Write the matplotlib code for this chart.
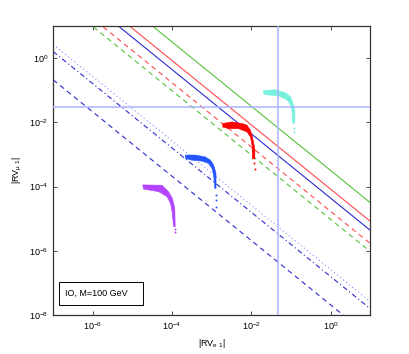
import matplotlib.pyplot as plt
import numpy as np

plt.rcParams['font.family'] = ['Liberation Sans', 'DejaVu Sans']
plt.rcParams['mathtext.default'] = 'regular'
plt.rcParams['font.size'] = 6.5

# axis ranges
x_range = [1e-7, 10]
y_range = [1e-8, 10]

# bound lines: log10(|RVe1| * |RVmu1|)
green_solid = -3.5
red_solid = -4.08
blue_solid = -4.36
red_dashed = -4.77
green_dashed = -5.02
blue_dotted = -6.58
blue_dashdot = -6.8
blue_dashed = -7.68

# crosshair limits
ve_limit = 0.046
vmu_limit = 0.03

# scan regions, outline in log10 (upper edge, then lower edge back)
violet_lx = [-4.74, -4.25, -4.09, -3.99, -3.93, -3.92, -3.96, -4.0, -4.04, -4.13, -4.34, -4.72]
violet_ly = [-3.95, -3.96, -4.16, -4.37, -4.68, -5.25, -5.25, -4.78, -4.52, -4.31, -4.16, -4.08]
violet_tail_lx = [-3.93, -3.93]
violet_tail_ly = [-5.33, -5.4]

blue_lx = [-3.66, -3.41, -3.16, -3.03, -2.95, -2.89, -2.89, -2.92, -2.95, -2.99, -3.08, -3.24, -3.5, -3.66]
blue_ly = [-3.02, -3.02, -3.08, -3.18, -3.33, -3.59, -4.06, -4.06, -3.65, -3.44, -3.28, -3.21, -3.18, -3.13]
blue_tail_lx = [-2.9, -2.9, -2.9]
blue_tail_ly = [-4.27, -4.42, -4.64]

red_lx = [-2.72, -2.49, -2.23, -2.11, -2.02, -1.97, -1.91, -1.91, -1.97, -1.98, -2.02, -2.11, -2.32, -2.57, -2.72]
red_ly = [-2.04, -1.99, -2.04, -2.09, -2.25, -2.46, -2.83, -3.14, -3.14, -2.72, -2.46, -2.3, -2.2, -2.2, -2.15]
red_tail_lx = [-1.92, -1.91]
red_tail_ly = [-3.27, -3.45]

cyan_lx = [-1.69, -1.39, -1.14, -1.01, -0.96, -0.9, -0.9, -0.96, -0.97, -1.01, -1.1, -1.31, -1.56, -1.69]
cyan_ly = [-1.01, -0.99, -1.08, -1.2, -1.36, -1.62, -2.03, -2.03, -1.67, -1.46, -1.3, -1.18, -1.15, -1.12]
cyan_tail_lx = [-0.91, -0.91]
cyan_tail_ly = [-2.18, -2.29]

fig = plt.figure(figsize=(4.09, 3.54), dpi=100)
ax = fig.add_axes([0.130, 0.110, 0.775, 0.817])

xs = np.array(x_range)

# lines
ax.plot(xs, 10**green_solid / xs, color='#55c23a', lw=0.8)
ax.plot(xs, 10**red_solid / xs, color='#ff4a4a', lw=0.8)
ax.plot(xs, 10**blue_solid / xs, color='#2a2ad0', lw=0.8)
ax.plot(xs, 10**red_dashed / xs, color='#ff4a4a', lw=0.8, dashes=(4.5, 3.5))
ax.plot(xs, 10**green_dashed / xs, color='#55c23a', lw=0.8, dashes=(4.5, 3.5))
ax.plot(xs, 10**blue_dotted / xs, color='#8c8cff', lw=0.8, dashes=(1, 2.5))
ax.plot(xs, 10**blue_dashdot / xs, color='#2a2ad0', lw=0.8, dashes=(4.5, 2.5, 1, 2.5))
ax.plot(xs, 10**blue_dashed / xs, color='#2a2ad0', lw=0.8, dashes=(4.5, 3.5))

# scan regions
regions = [
    (violet_lx, violet_ly, violet_tail_lx, violet_tail_ly, '#b445ff'),
    (blue_lx, blue_ly, blue_tail_lx, blue_tail_ly, '#2255ff'),
    (red_lx, red_ly, red_tail_lx, red_tail_ly, '#ff0000'),
    (cyan_lx, cyan_ly, cyan_tail_lx, cyan_tail_ly, '#76f2dc'),
]
for lx, ly, tlx, tly, c in regions:
    ax.fill(10**np.array(lx), 10**np.array(ly), color=c, lw=0.4, zorder=3)
    ax.scatter(10**np.array(tlx), 10**np.array(tly), s=2, color=c, zorder=3, lw=0)

# crosshair
ax.axvline(ve_limit, color='#aab4ff', lw=1.1, zorder=4)
ax.axhline(vmu_limit, color='#aab4ff', lw=1.1, zorder=4)

ax.set_xscale('log')
ax.set_yscale('log')
ax.set_xlim(x_range)
ax.set_ylim(y_range)
ax.set_xticks([1e-6, 1e-4, 1e-2, 1])
ax.set_yticks([1e-8, 1e-6, 1e-4, 1e-2, 1])
ax.xaxis.set_minor_locator(plt.NullLocator())
ax.yaxis.set_minor_locator(plt.NullLocator())
ax.tick_params(direction='in', top=True, right=True, length=3, width=0.6, colors='#333333', labelcolor='black')
for s in ax.spines.values():
    s.set_color('#333333')
    s.set_linewidth(0.9)

ax.set_xlabel(r'|RV$_{e\ 1}$|', labelpad=4)
ax.set_ylabel(r'|RV$_{\mu\ 1}$|', labelpad=4)

# legend-like box
ax.add_patch(plt.Rectangle((0.019, 0.035), 0.265, 0.079, transform=ax.transAxes,
                           fc='white', ec='black', lw=0.7, zorder=5))
ax.text(0.036, 0.0745, 'IO, M=100 GeV', transform=ax.transAxes, fontsize=6.5,
        va='center', zorder=6)

fig.savefig('out.png', dpi=100)
